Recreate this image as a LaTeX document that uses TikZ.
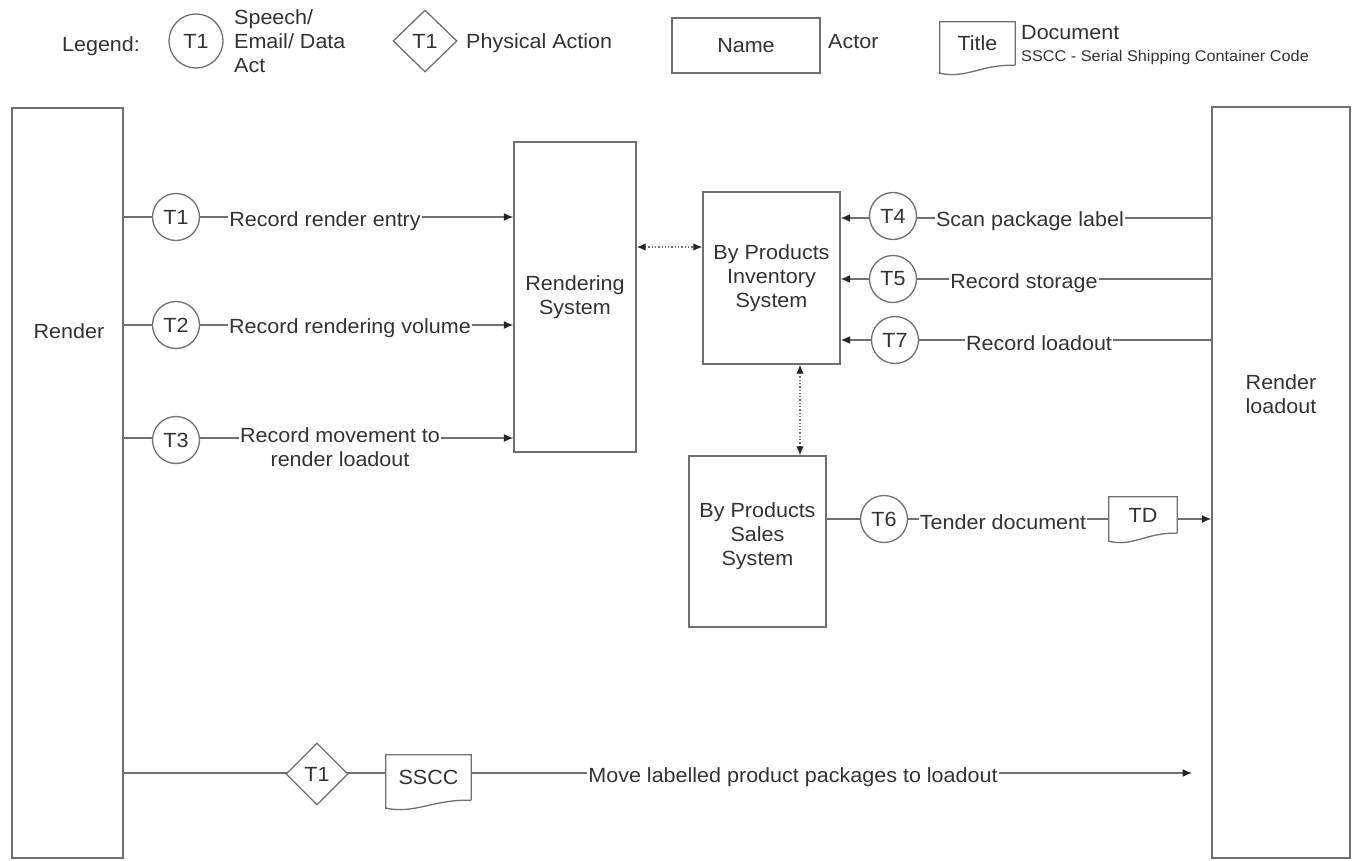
\documentclass[tikz,border=0pt]{standalone}
\usepackage{fontspec}
\setmainfont{Liberation Sans}[FakeStretch=1.05]
\usetikzlibrary{arrows.meta,calc,shapes.geometric,backgrounds}
\definecolor{lc}{HTML}{707070}
\definecolor{tc}{HTML}{333333}
\newcommand{\dgmfont}{\fontsize{20.5}{24}\selectfont}
\newcommand{\dgmsmall}{\fontsize{15.5}{18}\selectfont}
\newcommand{\docpath}[1]{\filldraw[docline] (#1.south east) -- (#1.north east) -- (#1.north west) -- ([yshift=-8pt]#1.south west) .. controls ($(#1.south west)!0.35!(#1.south east)+(0pt,-14pt)$) and ($(#1.south west)!0.55!(#1.south east)+(0pt,1pt)$) .. (#1.south east);}
\tikzset{
  every node/.style={text=tc, font=\dgmfont},
  actor/.style={rectangle, draw=lc, line width=1.4pt, fill=white, inner sep=0pt},
  act/.style={circle, draw=lc, line width=1.3pt, fill=white, minimum size=47pt, inner sep=0pt},
  diam/.style={diamond, draw=lc, line width=1.3pt, fill=white, minimum width=62pt, minimum height=62pt, aspect=1, inner sep=0pt},
  lbl/.style={fill=white, inner xsep=1pt, inner ysep=0pt},
  plain/.style={inner sep=0pt, align=center},
  docnode/.style={rectangle, inner sep=0pt},
  docline/.style={draw=lc, line width=1.3pt, fill=white},
  arr/.style={draw=lc, line width=1.3pt, -{Latex[length=9.5pt,width=8pt,color=black!85]}},
  darr/.style={draw=lc, line width=1.3pt, dotted, {Latex[length=9pt,width=7.5pt,color=black!85]}-{Latex[length=9pt,width=7.5pt,color=black!85]}}
}
\begin{document}
\begin{tikzpicture}[x=1pt,y=-1pt]
\useasboundingbox (0,0) rectangle (1356,861);

% ---------- Legend ----------
\node[plain] (lg) at (101,46) {Legend:};
\node[act, minimum size=54pt] (lc) at (196,41) {T1};
\node[plain, align=left, anchor=west] (lct) at (234,41) {Speech/\\Email/ Data\\Act};
\node[diam, minimum width=64pt] (ld) at (425,41) {T1};
\node[plain, anchor=west] (ldt) at (466,43) {Physical Action};
\node[actor, minimum width=148pt, minimum height=55pt] (lname) at (746,45.5) {Name};
\node[plain, anchor=west] (lat) at (828,42) {Actor};
\node[docnode, minimum width=75pt, minimum height=43pt] (ldoc) at (977.5,43.5) {Title};
\node[plain, anchor=west] (ldt1) at (1021,33) {Document};
\node[plain, anchor=west, font=\dgmsmall] (ldt2) at (1021,57) {SSCC - Serial Shipping Container Code};

% ---------- Actors ----------
\node[actor, minimum width=111pt, minimum height=750pt] (render) at (67.5,483) {};
\node[plain] (renderlbl) at (69,331) {Render};
\node[actor, minimum width=138pt, minimum height=751pt] (loadout) at (1281,482.5) {};
\node[plain] (loadoutlbl) at (1281,394) {Render\\loadout};
\node[actor, minimum width=122pt, minimum height=310pt, align=center] (rs) at (575,297) {Rendering\\System};
\node[actor, minimum width=137pt, minimum height=172pt, align=center] (bpis) at (771.5,278) {By Products\\Inventory\\System};
\node[actor, minimum width=137pt, minimum height=171pt, align=center] (bpss) at (757.5,541.5) {By Products\\Sales\\System\\[-10pt]};

% ---------- Acts (left) ----------
\node[act] (c1) at (176,217) {T1};
\node[lbl] (l1) at (325,221) {Record render entry};
\node[act] (c2) at (176,325) {T2};
\node[lbl] (l2) at (350,328) {Record rendering volume};
\node[act] (c3) at (176,440) {T3};
\node[lbl, align=center] (l3) at (340,447) {Record movement to\\render loadout};

% ---------- Acts (right) ----------
\node[act] (c4) at (893,216) {T4};
\node[lbl] (l4) at (1030,221) {Scan package label};
\node[act] (c5) at (893,279) {T5};
\node[lbl] (l5) at (1024,283) {Record storage};
\node[act] (c7) at (895,340) {T7};
\node[lbl] (l7) at (1039,343) {Record loadout};

\node[act] (c6) at (884,519) {T6};
\node[lbl] (l6) at (1003,522) {Tender document};
\node[docnode, minimum width=68pt, minimum height=36pt] (td) at (1143,515) {TD};

% ---------- Physical action ----------
\node[diam] (d1) at (317,774) {T1};
\node[docnode, minimum width=85pt, minimum height=45pt] (sscc) at (428.5,777.5) {SSCC};
\node[lbl] (lm) at (793,777) {Move labelled product packages to loadout};
\coordinate (mvend) at (1192,773);
\coordinate (dh) at (0,247);
\coordinate (dv) at (800,0);

\begin{pgfonlayer}{background}
\fill[white] (0,0) rectangle (1356,861);
\draw[arr] (render.east |- c1) -- (rs.west |- c1);
\draw[arr] (render.east |- c2) -- (rs.west |- c2);
\draw[arr] ([yshift=2pt]render.east |- c3) -- ([yshift=2pt]rs.west |- c3);
\draw[arr] ([yshift=-2pt]loadout.west |- c4) -- ([yshift=-2pt]bpis.east |- c4);
\draw[arr] (loadout.west |- c5) -- (bpis.east |- c5);
\draw[arr] (loadout.west |- c7) -- (bpis.east |- c7);
\draw[arr] (bpss.east |- c6) -- (loadout.west |- c6);
\draw[arr] (render.east |- mvend) -- (mvend);
\draw[darr] (rs.east |- dh) -- (bpis.west |- dh);
\draw[darr] (bpis.south -| dv) -- (bpss.north -| dv);
\docpath{td}
\docpath{sscc}
\docpath{ldoc}
\end{pgfonlayer}
\end{tikzpicture}
\end{document}
